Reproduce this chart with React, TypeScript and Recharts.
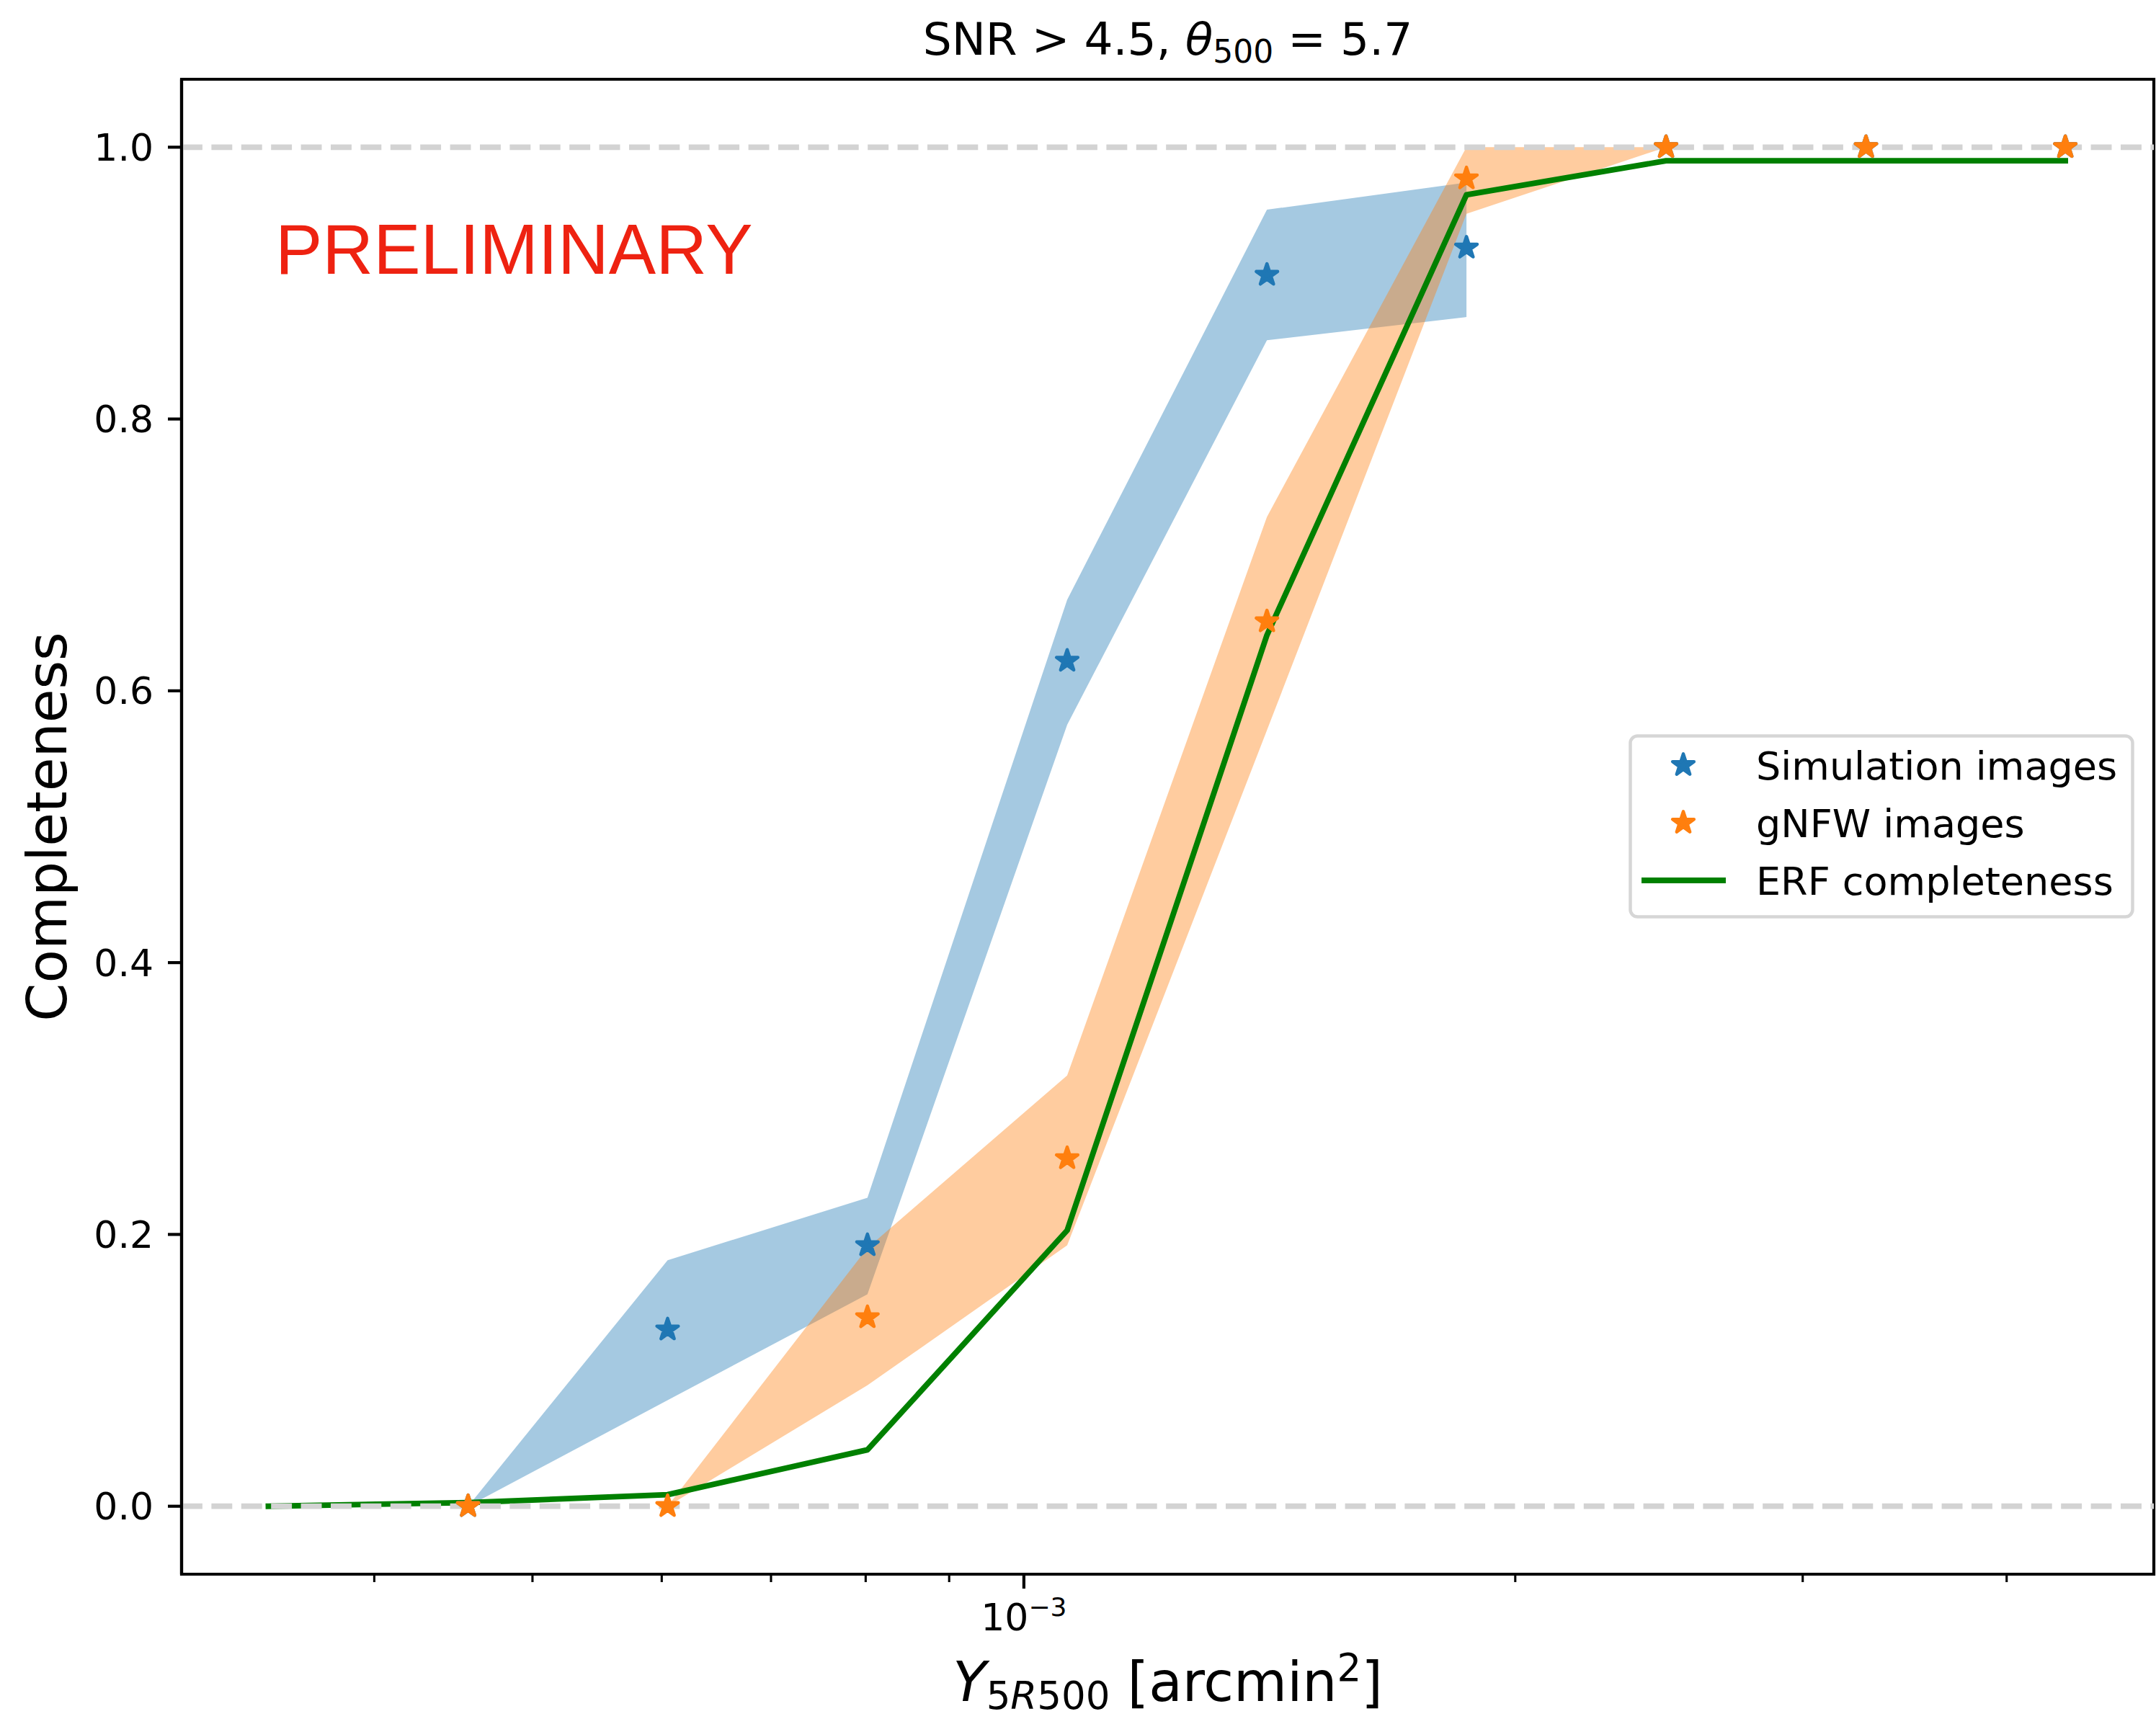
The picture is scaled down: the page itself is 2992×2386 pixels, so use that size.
import React from 'react';
import { ComposedChart, Line, Area, XAxis, YAxis, ReferenceArea, Legend } from 'recharts';

// ---------- data ----------
const X_DOMAIN: [number, number] = [3.048e-4, 4.923e-3];
const Y_DOMAIN: [number, number] = [-0.05, 1.05];

// bin centres (Y_5R500, arcmin^2)
const xValues = [3.445e-4, 4.566e-4, 6.05e-4, 8.02e-4, 1.063e-3, 1.409e-3, 1.867e-3, 2.474e-3, 3.28e-3, 4.345e-3];

// Simulation images (stars), bins 1..9
const simX = xValues.slice(1);
const simY = [0, 0.13, 0.192, 0.622, 0.906, 0.926, 1.0, 1.0, 1.0];

// gNFW images (stars), bins 1..9
const gnfwX = xValues.slice(1);
const gnfwY = [0, 0, 0.139, 0.256, 0.651, 0.977, 1.0, 1.0, 1.0];

// Simulation band, bins 1..6
const simBandX = xValues.slice(1, 7);
const simBandLo = [0, 0.078, 0.156, 0.575, 0.858, 0.875];
const simBandHi = [0, 0.181, 0.227, 0.667, 0.954, 0.974];

// gNFW band, bins 2..7
const gnfwBandX = xValues.slice(2, 8);
const gnfwBandLo = [0, 0.089, 0.192, 0.571, 0.951, 1.0];
const gnfwBandHi = [0, 0.19, 0.317, 0.728, 1.0, 1.0];

// ERF completeness, all bins
const erfY = [0, 0.0027, 0.0085, 0.0415, 0.203, 0.641, 0.965, 0.99, 0.99, 0.99];

const yTicks = [0, 0.2, 0.4, 0.6, 0.8, 1.0];
const xTicks = [4e-4, 5e-4, 6e-4, 7e-4, 8e-4, 9e-4, 1e-3, 2e-3, 3e-3, 4e-3];
const xMajorTicks = [1e-3];
const refLevels = [0, 1];

const legendItems = ['Simulation images', 'gNFW images', 'ERF completeness'];
const titleText = 'SNR > 4.5, ';
const watermark = 'PRELIMINARY';

// ---------- derived tables ----------
const simData = simX.map((x, i) => ({ x, y: simY[i] }));
const gnfwData = gnfwX.map((x, i) => ({ x, y: gnfwY[i] }));
const simBand = simBandX.map((x, i) => ({ x, lo: simBandLo[i], hi: simBandHi[i] }));
const gnfwBand = gnfwBandX.map((x, i) => ({ x, lo: gnfwBandLo[i], hi: gnfwBandHi[i] }));
const erfData = xValues.map((x, i) => ({ x, y: erfY[i] }));
const refData = refLevels.map((lvl) => [
  { x: X_DOMAIN[0], y: lvl },
  { x: X_DOMAIN[1], y: lvl },
]);

// ---------- styles ----------
const FONT = "'DejaVu Sans', sans-serif";
const C0 = '#1f77b4';
const C1 = '#ff7f0e';
const GREEN = '#008000';
const W = 2992;
const H = 2386;

function starPoints(cx: number, cy: number, R: number) {
  const r = R * 0.381966;
  const pts: string[] = [];
  for (let k = 0; k < 10; k++) {
    const rad = k % 2 === 0 ? R : r;
    const a = (-90 + k * 36) * (Math.PI / 180);
    pts.push(`${(cx + rad * Math.cos(a)).toFixed(2)},${(cy + rad * Math.sin(a)).toFixed(2)}`);
  }
  return pts.join(' ');
}

const Star = ({ cx, cy, color }: { cx: number; cy: number; color: string }) => (
  <polygon points={starPoints(cx, cy, 15.6)} fill={color} stroke={color} strokeWidth={4.5} strokeLinejoin="round" />
);

const makeDot = (color: string) => (p: any) => {
  if (p.cx == null || p.cy == null) return <g key={`e-${color}-${p.index}`} />;
  return <Star key={`s-${color}-${p.index}`} cx={p.cx} cy={p.cy} color={color} />;
};

const XTick = (props: any) => {
  const { x, y, payload } = props;
  const v = payload.value;
  const major = xMajorTicks.some((m) => Math.abs(v - m) < 1e-12);
  return (
    <g>
      <line x1={x} x2={x} y1={y} y2={y + (major ? 20 : 11)} stroke="#000" strokeWidth={major ? 4.2 : 3.1} />
      {major && (
        <text x={x} y={y + 78} textAnchor="middle" fontSize={52} fontFamily={FONT} fill="#000">
          10<tspan fontSize={36} dy={-20}>−3</tspan>
        </text>
      )}
    </g>
  );
};

const XLabel = (p: any) => {
  const vb = p.viewBox || { x: 252, y: 2185, width: 2737, height: 201 };
  const cx = vb.x + vb.width / 2;
  return (
    <text x={cx} y={vb.y + 176} textAnchor="middle" fontSize={76} fontFamily={FONT} fill="#000">
      <tspan fontStyle="italic">Y</tspan>
      <tspan fontSize={53} dy={11}>5</tspan>
      <tspan fontSize={53} fontStyle="italic">R</tspan>
      <tspan fontSize={53}>500</tspan>
      <tspan dy={-11}>{' [arcmin'}</tspan>
      <tspan fontSize={53} dy={-28}>2</tspan>
      <tspan dy={28}>]</tspan>
    </text>
  );
};

const YLabel = (p: any) => {
  const vb = p.viewBox || { x: 0, y: 110, width: 252, height: 2075 };
  const cy = vb.y + vb.height / 2;
  const x = 92;
  return (
    <text x={x} y={cy} transform={`rotate(-90, ${x}, ${cy})`} textAnchor="middle" fontSize={76} fontFamily={FONT} fill="#000">
      Completeness
    </text>
  );
};

const FrameLabel = (p: any) => {
  const vb = p.viewBox || { x: 252, y: 110, width: 2737, height: 2075 };
  const cx = vb.x + vb.width / 2;
  return (
    <g>
      <text x={cx} y={vb.y - 34} textAnchor="middle" fontSize={63} fontFamily={FONT} fill="#000">
        {titleText}
        <tspan fontStyle="italic">θ</tspan>
        <tspan fontSize={44} dy={11}>500</tspan>
        <tspan dy={-11}>{' = 5.7'}</tspan>
      </text>
      <text x={vb.x + 130} y={vb.y + 270} fontSize={98} fontFamily="'Liberation Sans', Arial, sans-serif" fill="#ee2211">
        {watermark}
      </text>
    </g>
  );
};

const LegendBox = () => (
  <svg width={702} height={256} style={{ display: 'block' }}>
    <rect x={2.5} y={2.5} width={697} height={251} rx={10} ry={10} fill="#fff" fillOpacity={0.8} stroke="#d6d6d6" strokeWidth={4.5} />
    <Star cx={76} cy={43} color={C0} />
    <Star cx={76} cy={123} color={C1} />
    <line x1={18} x2={135} y1={203} y2={203} stroke={GREEN} strokeWidth={7.8} />
    {legendItems.map((t, i) => (
      <text key={t} x={177} y={63 + i * 80} fontSize={54} fontFamily={FONT} fill="#000">
        {t}
      </text>
    ))}
  </svg>
);

export default function App() {
  return (
    <div style={{ position: 'absolute', left: 0, top: 0, width: W, height: H, background: '#fff' }}>
      <ComposedChart width={W} height={H} margin={{ top: 110, right: 3, bottom: 0, left: 0 }}>
        <XAxis
          dataKey="x"
          type="number"
          scale="log"
          domain={X_DOMAIN}
          allowDataOverflow
          ticks={xTicks}
          interval={0}
          tick={<XTick />}
          tickLine={false}
          tickSize={0}
          tickMargin={0}
          height={201}
          axisLine={{ stroke: '#000', strokeWidth: 4.2 }}
          label={{ content: <XLabel /> }}
        />
        <YAxis
          type="number"
          domain={Y_DOMAIN}
          allowDataOverflow
          ticks={yTicks}
          interval={0}
          width={252}
          tickFormatter={(v: number) => v.toFixed(1)}
          tick={{ fontSize: 52, fontFamily: FONT, fill: '#000' }}
          tickLine={{ stroke: '#000', strokeWidth: 4.2 }}
          tickSize={19}
          tickMargin={20}
          axisLine={{ stroke: '#000', strokeWidth: 4.2 }}
          label={{ content: <YLabel /> }}
        />
        <Area
          data={simBand}
          dataKey={(d: any) => [d.lo, d.hi]}
          type="linear"
          stroke="none"
          fill={C0}
          fillOpacity={0.4}
          isAnimationActive={false}
          activeDot={false}
        />
        <Area
          data={gnfwBand}
          dataKey={(d: any) => [d.lo, d.hi]}
          type="linear"
          stroke="none"
          fill={C1}
          fillOpacity={0.4}
          isAnimationActive={false}
          activeDot={false}
        />
        <Line
          data={simData}
          dataKey="y"
          stroke="none"
          strokeWidth={0}
          dot={makeDot(C0)}
          activeDot={false}
          isAnimationActive={false}
        />
        <Line
          data={gnfwData}
          dataKey="y"
          stroke="none"
          strokeWidth={0}
          dot={makeDot(C1)}
          activeDot={false}
          isAnimationActive={false}
        />
        <Line
          data={erfData}
          dataKey="y"
          type="linear"
          stroke={GREEN}
          strokeWidth={7.8}
          strokeLinejoin="round"
          strokeLinecap="square"
          dot={false}
          activeDot={false}
          isAnimationActive={false}
        />
        {refData.map((d, i) => (
          <Line
            key={`ref-${i}`}
            data={d}
            dataKey="y"
            type="linear"
            stroke="#d3d3d3"
            strokeWidth={7.8}
            strokeDasharray="28.9 12.5"
            dot={false}
            activeDot={false}
            isAnimationActive={false}
          />
        ))}
        <ReferenceArea
          x1={X_DOMAIN[0]}
          x2={X_DOMAIN[1]}
          y1={Y_DOMAIN[0]}
          y2={Y_DOMAIN[1]}
          fill="none"
          fillOpacity={0}
          stroke="#000"
          strokeWidth={4.2}
          ifOverflow="visible"
          label={{ content: <FrameLabel /> }}
        />
        <Legend
          layout="vertical"
          align="center"
          verticalAlign="middle"
          content={<LegendBox />}
          wrapperStyle={{ position: 'absolute', left: 2260, top: 1019, width: 702, height: 256 }}
        />
      </ComposedChart>
    </div>
  );
}
